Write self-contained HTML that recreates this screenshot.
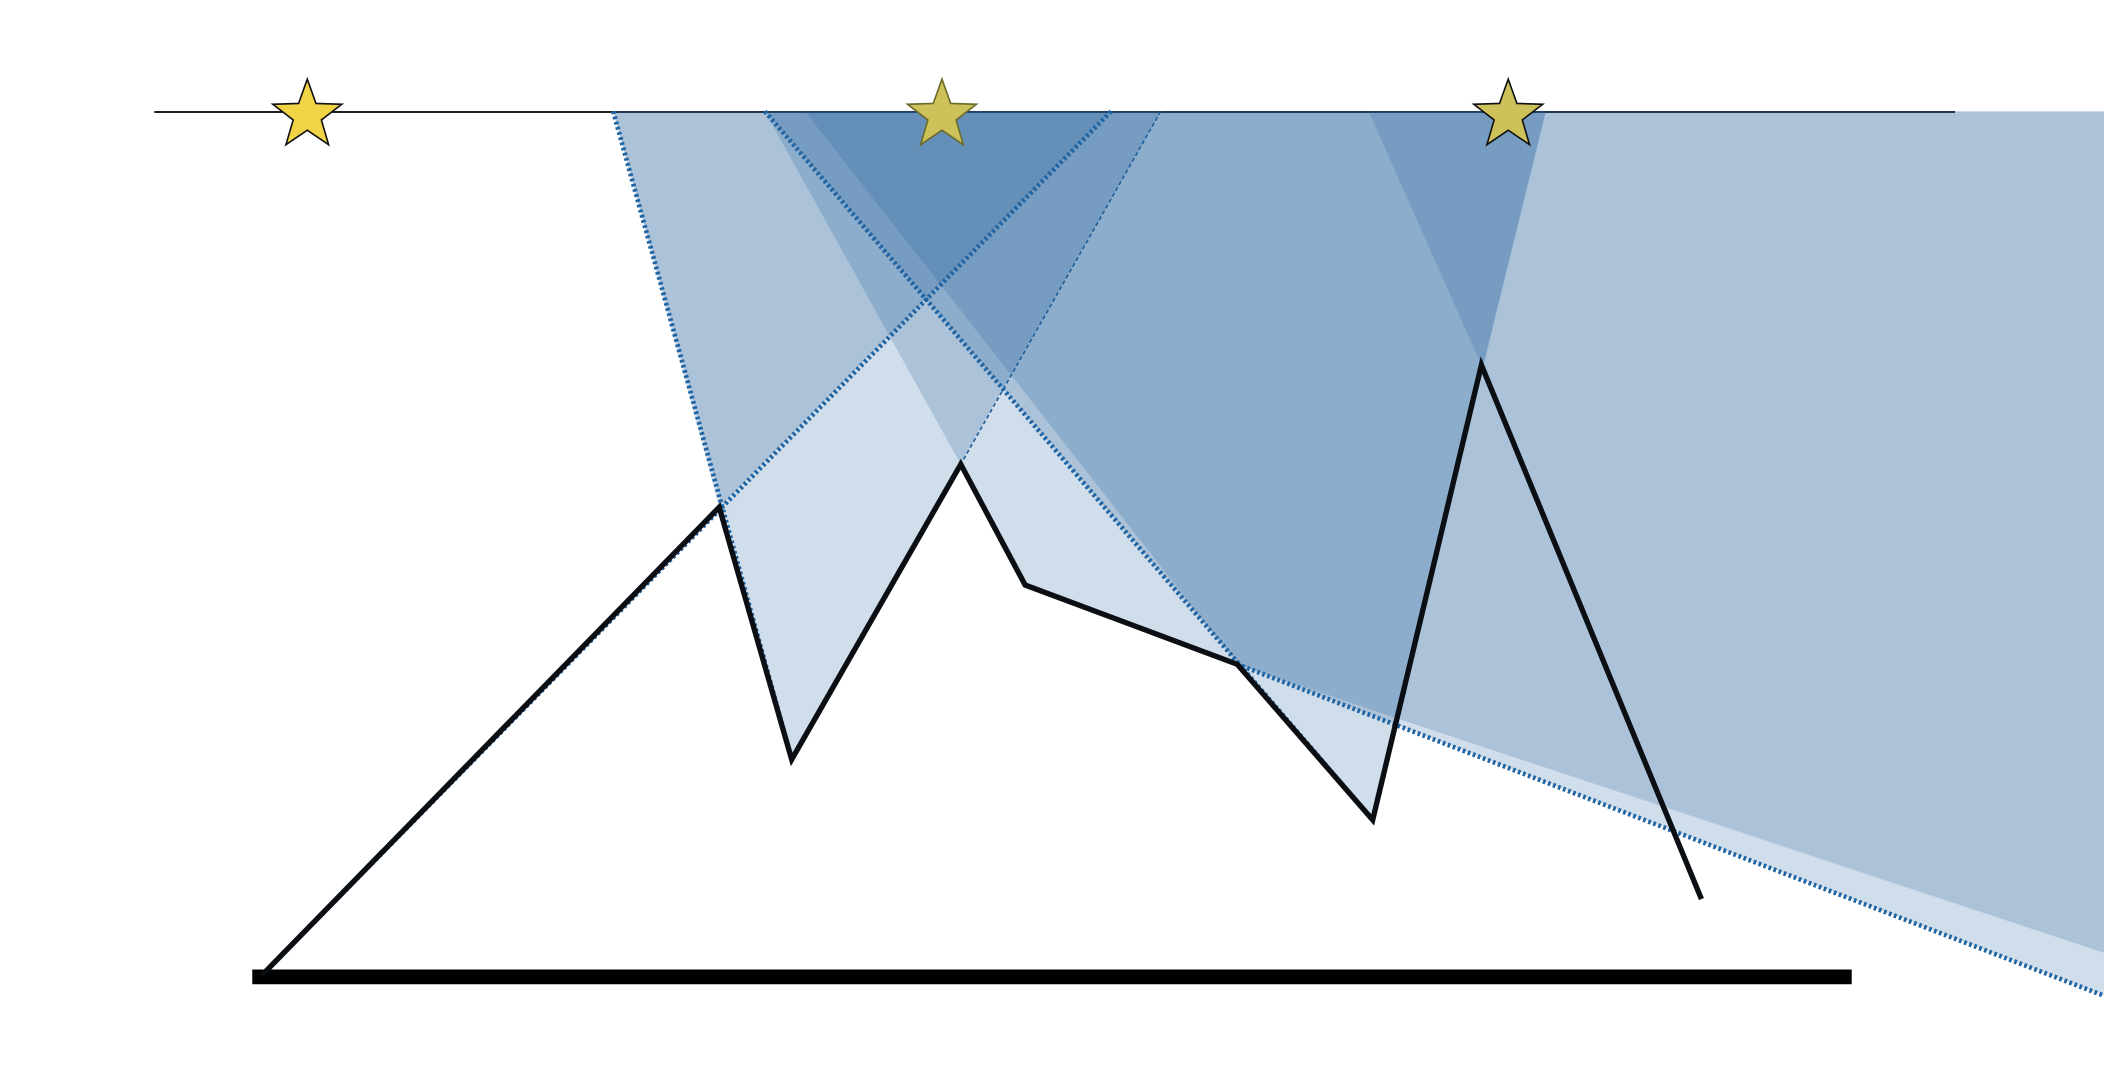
<!DOCTYPE html>
<html><head><meta charset="utf-8"><style>
html,body{margin:0;padding:0;background:#fff;width:2104px;height:1066px;overflow:hidden}
svg{display:block}
</style></head><body>
<svg id="chart" width="2104" height="1066" viewBox="0 0 1568 794.4" preserveAspectRatio="none" xmlns="http://www.w3.org/2000/svg">
<line x1="115" y1="83.5" x2="1457" y2="83.5" stroke="#000" stroke-width="1.3"/>
<g id="shades"></g>
<g id="dots"></g>
<g id="stars"></g>
<line x1="188" y1="728" x2="1380" y2="728" stroke="#000" stroke-width="11"/>
<polyline id="profile" fill="none" stroke="#0b0f14" stroke-width="4" stroke-linejoin="miter"/>
</svg>
<script>
const profileX=[195,536,590,716,764,922,1023,1104,1268];
const profileY=[727,378,566,346,436,495,611,272,670];
const starX=[229,702,1124];
// [polygon, layer count]
const polys=[
 [[[457,83],[865,83],[590,566]],1],
 [[[457,83],[828,83],[536,378]],1],
 [[[570,83],[865,83],[716,346]],1],
 [[[570,83],[1152,83],[1023,611]],1],
 [[[600,83],[1152,83],[1040,535],[922,495]],1],
 [[[748,290],[865,83],[1568,83],[1568,710],[1040,535],[922,495]],1],
 [[[1020,83],[1152,83],[1104,272]],1],
 [[[1104,272],[1152,83],[1568,83],[1568,710],[1040,535]],1],
 [[[922,495],[1040,535],[1568,710],[1568,742]],1],
 [[[716,346],[748,290],[922,495],[764,436]],1]
];
const dotted=[[[457,83],[590,566]],[[570,83],[1023,611]],[[828,83],[195,727]],[[922,495],[1568,742]]];
const NS='http://www.w3.org/2000/svg';
const sh=document.getElementById('shades');
polys.forEach(p=>{for(let n=0;n<p[1];n++){const e=document.createElementNS(NS,'polygon');
e.setAttribute('points',p[0].map(q=>q.join(',')).join(' '));
e.setAttribute('fill','#1f5f9b');e.setAttribute('fill-opacity',0.21);


sh.appendChild(e);}});
const tl=document.createElementNS(NS,'polyline');
tl.setAttribute('points','865,83 716,346 590,566');tl.setAttribute('fill','none');tl.setAttribute('stroke','#1f5f9a');tl.setAttribute('stroke-width','1.2');tl.setAttribute('stroke-dasharray','3,2');


sh.appendChild(tl);
const dg=document.getElementById('dots');
dotted.forEach(d=>{const l=document.createElementNS(NS,'line');
l.setAttribute('x1',d[0][0]);l.setAttribute('y1',d[0][1]);l.setAttribute('x2',d[1][0]);l.setAttribute('y2',d[1][1]);
l.setAttribute('stroke','#1f64a3');l.setAttribute('stroke-width','3.5');l.setAttribute('stroke-dasharray','2,2');


dg.appendChild(l);});
const sg=document.getElementById('stars');
starX.forEach((cx,i)=>{const cy=83,R=27,r=11;let pts=[];
for(let k=0;k<10;k++){const a=-Math.PI/2+k*Math.PI/5,rr=k%2?r:R;pts.push((cx+rr*Math.cos(a)).toFixed(1)+','+(cy+3+rr*Math.sin(a)).toFixed(1));}
const s=document.createElementNS(NS,'polygon');s.setAttribute('points',pts.join(' '));
s.setAttribute('fill',i==0?'#f0d445':'#cdc25a');s.setAttribute('stroke',i==1?'#6b6a2a':'#111');s.setAttribute('stroke-width','1.2');


sg.appendChild(s);});
document.getElementById('profile').setAttribute('points',profileX.map((x,i)=>x+','+profileY[i]).join(' '));
</script>
</body></html>
